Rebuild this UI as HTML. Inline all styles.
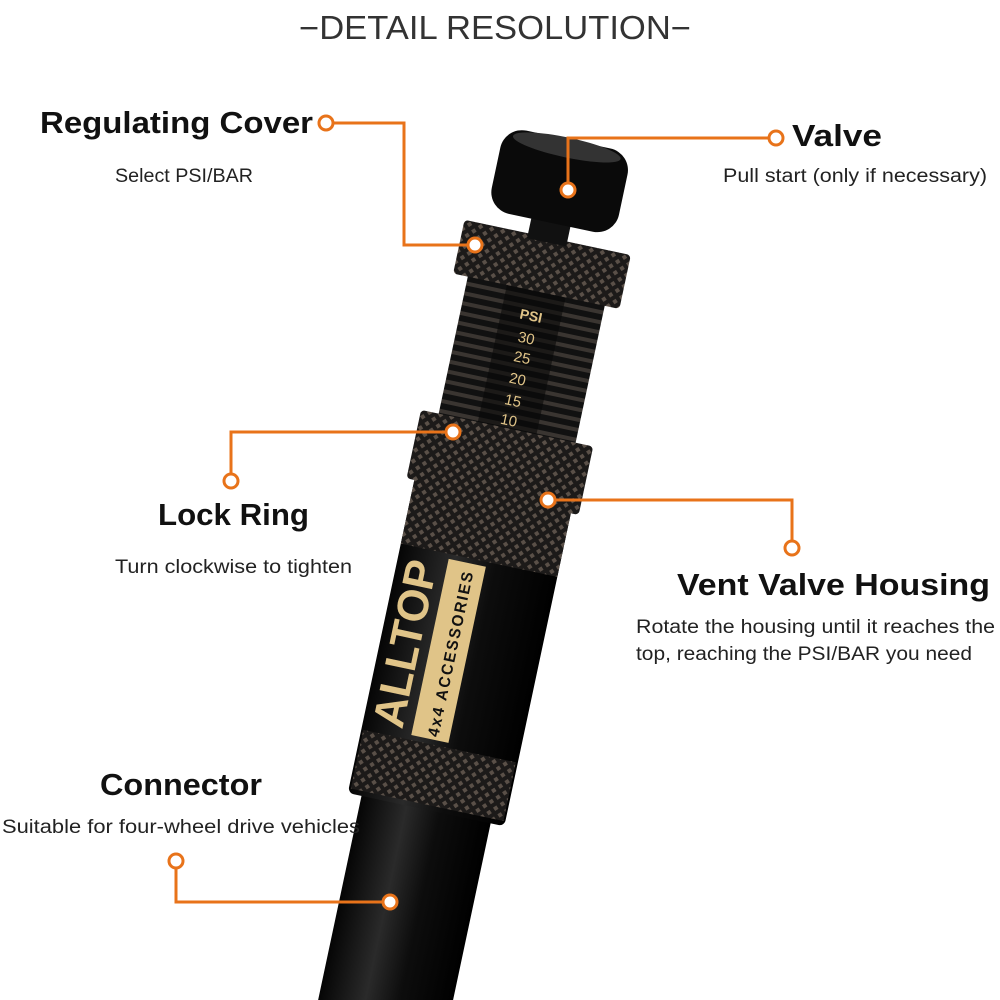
<!DOCTYPE html>
<html><head><meta charset="utf-8"><style>
html,body{margin:0;padding:0;background:#fff;width:1000px;height:1000px;overflow:hidden;}
svg{display:block;overflow:hidden;font-family:"Liberation Sans","DejaVu Sans",sans-serif;}
</style></head><body>
<svg width="1000" height="1000" viewBox="0 0 1000 1000" xmlns="http://www.w3.org/2000/svg">
<defs>
<pattern id="kn" width="8" height="8" patternUnits="userSpaceOnUse" patternTransform="rotate(45)">
<rect width="8" height="8" fill="#1c1a19"/>
<rect width="4" height="4" fill="#5a5048"/>
</pattern>
<pattern id="th" width="10" height="10" patternUnits="userSpaceOnUse">
<rect width="10" height="10" fill="#111"/>
<rect y="0" width="10" height="4" fill="#3a3531"/>
</pattern>
<linearGradient id="bd" x1="0" x2="1" y1="0" y2="0">
<stop offset="0" stop-color="#050505"/>
<stop offset="0.35" stop-color="#2a2a2a"/>
<stop offset="0.6" stop-color="#0d0d0d"/>
<stop offset="1" stop-color="#000"/>
</linearGradient>
<clipPath id="cp"><rect width="1000" height="1000"/></clipPath>
</defs>
<rect width="1000" height="1000" fill="#fff"/>
<text x="495" y="39" text-anchor="middle" font-size="33" fill="#333" textLength="392" lengthAdjust="spacingAndGlyphs">−DETAIL RESOLUTION−</text>

<g clip-path="url(#cp)">
<g transform="translate(477,570) rotate(12)">
  <rect x="-66" y="240" width="132" height="215" fill="url(#bd)"/>
  <rect x="-80" y="-80" width="160" height="325" rx="6" fill="url(#bd)"/>
  <rect x="-80" y="-80" width="160" height="70" fill="url(#kn)"/>
  <rect x="-78" y="180" width="156" height="60" fill="url(#kn)"/>
  <rect x="-30" y="-5" width="38" height="180" fill="#e0c488"/>
  <text transform="translate(-40,172) rotate(-90)" font-size="44" font-weight="bold" fill="#e0c488" textLength="170" lengthAdjust="spacingAndGlyphs">ALLTOP</text>
  <text transform="translate(-3,172) rotate(-90)" font-size="16" font-weight="bold" fill="#111" letter-spacing="2" textLength="170" lengthAdjust="spacingAndGlyphs">4x4 ACCESSORIES</text>
  <rect x="-70" y="-290" width="140" height="150" fill="url(#th)"/>
  <rect x="-30" y="-285" width="60" height="140" fill="#080808" opacity="0.6"/>
  <text x="0" y="-255" text-anchor="middle" font-size="14" font-weight="bold" fill="#e0c488">PSI</text>
  <text x="0" y="-232" text-anchor="middle" font-size="15" fill="#e0c488">30</text>
  <text x="0" y="-212" text-anchor="middle" font-size="15" fill="#e0c488">25</text>
  <text x="0" y="-190" text-anchor="middle" font-size="15" fill="#e0c488">20</text>
  <text x="0" y="-168" text-anchor="middle" font-size="15" fill="#e0c488">15</text>
  <text x="0" y="-148" text-anchor="middle" font-size="15" fill="#e0c488">10</text>
  <rect x="-88" y="-145" width="176" height="70" rx="4" fill="url(#kn)"/>
  <rect x="-85" y="-340" width="170" height="55" rx="4" fill="url(#kn)"/>
  <rect x="-20" y="-360" width="40" height="25" fill="#111"/>
  <rect x="-65" y="-440" width="130" height="85" rx="22" fill="#0a0a0a"/>
  <ellipse cx="0" cy="-432" rx="55" ry="10" fill="#333"/>
</g>
</g>

<g stroke="#e8731a" stroke-width="3" fill="none">
  <polyline points="333,123 404,123 404,245 468,245"/>
  <circle cx="326" cy="123" r="7" fill="#fff"/><circle cx="475" cy="245" r="7" fill="#fff"/>
  <polyline points="769,138 568,138 568,183"/>
  <circle cx="776" cy="138" r="7" fill="#fff"/><circle cx="568" cy="190" r="7" fill="#fff"/>
  <polyline points="231,474 231,432 446,432"/>
  <circle cx="231" cy="481" r="7" fill="#fff"/><circle cx="453" cy="432" r="7" fill="#fff"/>
  <polyline points="555,500 792,500 792,541"/>
  <circle cx="548" cy="500" r="7" fill="#fff"/><circle cx="792" cy="548" r="7" fill="#fff"/>
  <polyline points="176,868 176,902 383,902"/>
  <circle cx="176" cy="861" r="7" fill="#fff"/><circle cx="390" cy="902" r="7" fill="#fff"/>
</g>

<g fill="#111" font-weight="bold" font-size="31">
<text x="40" y="133" textLength="273" lengthAdjust="spacingAndGlyphs">Regulating Cover</text>
<text x="792" y="146" textLength="90" lengthAdjust="spacingAndGlyphs">Valve</text>
<text x="158" y="525" textLength="151" lengthAdjust="spacingAndGlyphs">Lock Ring</text>
<text x="677" y="595" textLength="313" lengthAdjust="spacingAndGlyphs">Vent Valve Housing</text>
<text x="100" y="795" textLength="162" lengthAdjust="spacingAndGlyphs">Connector</text>
</g>
<g fill="#222" font-size="19">
<text x="115" y="182" textLength="138" lengthAdjust="spacingAndGlyphs">Select PSI/BAR</text>
<text x="723" y="182" textLength="264" lengthAdjust="spacingAndGlyphs">Pull start (only if necessary)</text>
<text x="115" y="573" textLength="237" lengthAdjust="spacingAndGlyphs">Turn clockwise to tighten</text>
<text x="636" y="633" textLength="359" lengthAdjust="spacingAndGlyphs">Rotate the housing until it reaches the</text>
<text x="636" y="660" textLength="336" lengthAdjust="spacingAndGlyphs">top, reaching the PSI/BAR you need</text>
<text x="2" y="833" textLength="358" lengthAdjust="spacingAndGlyphs">Suitable for four-wheel drive vehicles</text>
</g>
</svg>
</body></html>
